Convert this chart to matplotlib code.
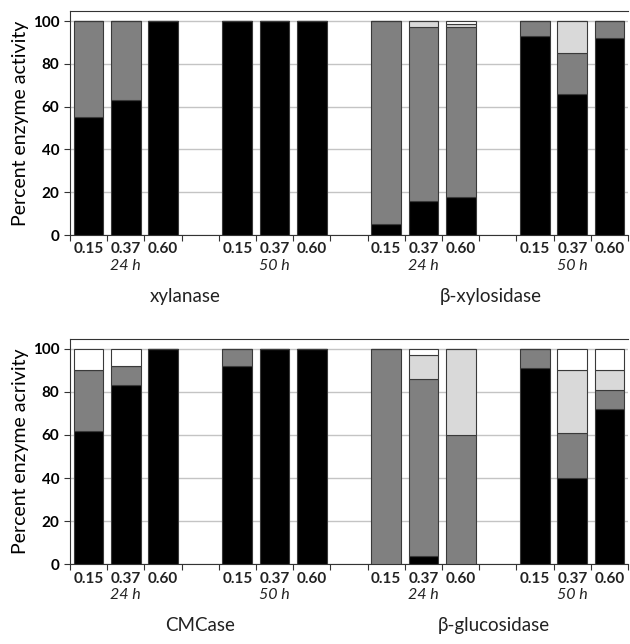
import numpy as np
import matplotlib.pyplot as plt

plt.rcParams['font.family'] = ['Lato', 'DejaVu Sans']

# Datos
conc = ['0.15', '0.37', '0.60']
tiempos = ['24 h', '50 h']

# xylanase (24h: 0.15, 0.37, 0.60 ; 50h: 0.15, 0.37, 0.60)
xyl_negro = [55, 63, 100, 100, 100, 100]
xyl_gris = [45, 37, 0, 0, 0, 0]
xyl_claro = [0, 0, 0, 0, 0, 0]
xyl_blanco = [0, 0, 0, 0, 0, 0]

# beta-xylosidase
bxyl_negro = [5, 16, 18, 93, 66, 92]
bxyl_gris = [95, 81, 79, 7, 19, 8]
bxyl_claro = [0, 3, 1.5, 0, 15, 0]
bxyl_blanco = [0, 0, 1.5, 0, 0, 0]

# CMCase
cmc_negro = [62, 83, 100, 92, 100, 100]
cmc_gris = [28, 9, 0, 8, 0, 0]
cmc_claro = [0, 0, 0, 0, 0, 0]
cmc_blanco = [10, 8, 0, 0, 0, 0]

# beta-glucosidase
bglu_negro = [0, 4, 0, 91, 40, 72]
bglu_gris = [100, 82, 60, 9, 21, 9]
bglu_claro = [0, 11, 40, 0, 29, 9]
bglu_blanco = [0, 3, 0, 0, 10, 10]

colores = ['#000000', '#808080', '#d9d9d9', '#ffffff']

# posiciones: 4 grupos de 3 barras con un hueco entre grupos
pos = np.array([0, 1, 2, 4, 5, 6, 8, 9, 10, 12, 13, 14])


def panel(ax, enz1, enz2, nombres, ylabel, xnombres):
    capas = [np.array(enz1[k] + enz2[k], dtype=float) for k in range(4)]
    base = np.zeros(len(pos))
    for capa, c in zip(capas, colores):
        ax.bar(pos, capa, bottom=base, width=0.8, color=c,
               edgecolor='#3a3a3a', linewidth=0.8, zorder=3)
        base = base + capa
    ax.set_xlim(-0.5, 14.5)
    ax.set_ylim(0, 104.7)
    ax.set_yticks([0, 20, 40, 60, 80, 100])
    ax.yaxis.grid(True, color='#c4c4c4', linewidth=1, zorder=0)
    ax.set_ylabel(ylabel, fontsize=14, labelpad=3)
    # marcas entre categorias
    ax.set_xticks(np.arange(-0.5, 15, 1))
    ax.set_xticklabels([])
    ax.tick_params(axis='x', direction='out', length=4, color='#333333')
    ax.tick_params(axis='y', direction='out', length=4, labelsize=11, color='#333333')
    for lab in ax.get_yticklabels():
        lab.set_fontweight('bold')
    for s in ['top', 'left', 'bottom']:
        ax.spines[s].set_color('#333333')
    ax.spines['right'].set_visible(False)
    tr = ax.get_xaxis_transform()
    for i, p in enumerate(pos):
        ax.text(p, -0.033, conc[i % 3], transform=tr, ha='center', va='top',
                fontsize=11, fontweight='bold', color='#222222')
    for g in range(4):
        ax.text(pos[g * 3 + 1], -0.105, tiempos[g % 2], transform=tr,
                ha='center', va='top', fontsize=11.5, style='italic', color='#222222')
    for nombre, xn in zip(nombres, xnombres):
        ax.text(xn, -0.235, nombre, transform=tr, ha='center', va='top',
                fontsize=13.5, color='#222222')


fig = plt.figure(figsize=(6.3, 6.44), dpi=100)
ax1 = fig.add_axes([0.111, 0.635, 0.886, 0.348])
ax2 = fig.add_axes([0.111, 0.124, 0.886, 0.35])

panel(ax1,
      [xyl_negro, xyl_gris, xyl_claro, xyl_blanco],
      [bxyl_negro, bxyl_gris, bxyl_claro, bxyl_blanco],
      ['xylanase', 'β-xylosidase'], 'Percent enzyme activity', [2.6, 10.8])
panel(ax2,
      [cmc_negro, cmc_gris, cmc_claro, cmc_blanco],
      [bglu_negro, bglu_gris, bglu_claro, bglu_blanco],
      ['CMCase', 'β-glucosidase'], 'Percent enzyme acrivity', [3.0, 10.9])

fig.savefig('out.png', dpi=100)
